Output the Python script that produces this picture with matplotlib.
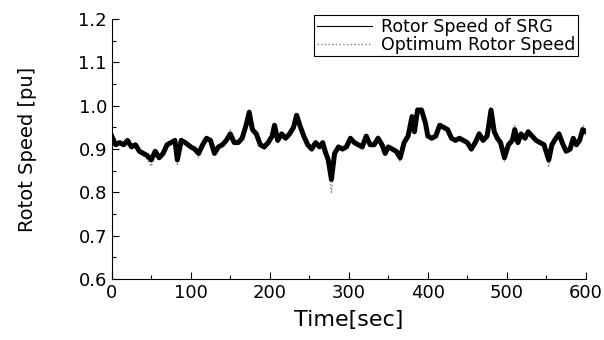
import matplotlib
matplotlib.use("Agg")
import matplotlib.pyplot as plt
from matplotlib.ticker import MultipleLocator, FormatStrFormatter

# Values (time in s, speed in pu)
time_s = [0, 5, 10, 15, 20, 25, 30, 35, 40, 45, 50, 55, 60, 65, 70, 75, 80, 83, 88, 93,
          100, 105, 110, 115, 120, 125, 130, 135, 140, 145, 150, 155, 160, 165, 170, 174, 178,
          183, 188, 193, 198, 203, 206, 210, 215, 220, 225, 230, 234, 238, 243, 248, 253,
          258, 263, 267, 270, 274, 278, 282, 287, 292, 297, 302, 307, 312, 317, 322, 327,
          332, 337, 342, 346, 350, 355, 360, 365, 370, 375, 380, 383, 387, 392, 397, 400,
          405, 410, 415, 420, 425, 430, 435, 440, 445, 450, 455, 460, 465, 470, 475, 480,
          484, 488, 492, 497, 502, 507, 510, 514, 518, 523, 527, 532, 537, 542, 547, 553,
          557, 562, 566, 570, 575, 580, 584, 588, 592, 596, 600]

srg_speed = [0.93, 0.91, 0.915, 0.91, 0.92, 0.905, 0.91, 0.895, 0.89, 0.885, 0.875, 0.895,
             0.88, 0.89, 0.91, 0.915, 0.92, 0.875, 0.92, 0.915,
             0.905, 0.90, 0.89, 0.91, 0.925, 0.92, 0.89, 0.905, 0.91, 0.92, 0.935, 0.915,
             0.915, 0.925, 0.955, 0.985, 0.945,
             0.935, 0.91, 0.905, 0.915, 0.93, 0.955, 0.92, 0.935, 0.925, 0.935, 0.95, 0.978,
             0.955, 0.93, 0.91, 0.90,
             0.915, 0.905, 0.915, 0.895, 0.875, 0.83, 0.89, 0.905, 0.90, 0.905, 0.925, 0.915,
             0.91, 0.905, 0.93, 0.91,
             0.91, 0.925, 0.91, 0.89, 0.905, 0.90, 0.895, 0.88, 0.915, 0.93, 0.975, 0.94,
             0.99, 0.99, 0.96, 0.93,
             0.925, 0.93, 0.955, 0.95, 0.945, 0.925, 0.92, 0.925, 0.92, 0.915, 0.90, 0.915,
             0.935, 0.92, 0.93, 0.99,
             0.94, 0.925, 0.915, 0.88, 0.91, 0.92, 0.945, 0.915, 0.935, 0.925, 0.94, 0.93,
             0.92, 0.915, 0.91, 0.875,
             0.91, 0.925, 0.935, 0.915, 0.895, 0.90, 0.925, 0.91, 0.92, 0.945, 0.94]

opt_speed = [0.935, 0.905, 0.915, 0.905, 0.925, 0.90, 0.91, 0.89, 0.885, 0.875, 0.86, 0.895,
             0.875, 0.89, 0.91, 0.915, 0.925, 0.865, 0.925, 0.915,
             0.905, 0.895, 0.88, 0.91, 0.93, 0.92, 0.885, 0.905, 0.91, 0.925, 0.945, 0.915,
             0.915, 0.925, 0.96, 0.99, 0.945,
             0.935, 0.905, 0.90, 0.915, 0.935, 0.96, 0.915, 0.94, 0.925, 0.94, 0.955, 0.982,
             0.955, 0.93, 0.905, 0.895,
             0.915, 0.90, 0.915, 0.89, 0.865, 0.80, 0.89, 0.905, 0.895, 0.905, 0.93, 0.915,
             0.91, 0.90, 0.935, 0.91,
             0.905, 0.93, 0.91, 0.885, 0.905, 0.895, 0.89, 0.87, 0.915, 0.935, 0.98, 0.94,
             0.995, 0.995, 0.96, 0.925,
             0.925, 0.935, 0.96, 0.955, 0.95, 0.925, 0.915, 0.925, 0.92, 0.915, 0.895, 0.915,
             0.94, 0.92, 0.93, 0.995,
             0.94, 0.925, 0.915, 0.87, 0.91, 0.92, 0.955, 0.915, 0.94, 0.925, 0.945, 0.93,
             0.92, 0.915, 0.905, 0.86,
             0.91, 0.93, 0.94, 0.915, 0.89, 0.90, 0.93, 0.91, 0.925, 0.955, 0.945]

legend_labels = ["Rotor Speed of SRG", "Optimum Rotor Speed"]

#-------------------------------------------------------------------------------

def main():
  plt.rcParams['font.family'] = ['DejaVu Sans']
  fig = plt.figure(figsize=(6.04, 3.40), dpi=100)
  ax = fig.add_axes([0.185, 0.179, 0.785, 0.765])

  ax.plot(time_s, opt_speed, color="#808080", ls=":", lw=1.0, label=legend_labels[1])
  ax.plot(time_s, srg_speed, color="black", ls="-", lw=3.6, solid_joinstyle="round",
          label="_srg")
  # thin handle for the legend entry of the SRG speed
  ax.plot([], [], color="black", lw=0.8, label=legend_labels[0])

  ax.set_xlim(0, 600)
  ax.set_ylim(0.6, 1.2)
  ax.xaxis.set_major_locator(MultipleLocator(100))
  ax.xaxis.set_minor_locator(MultipleLocator(50))
  ax.yaxis.set_major_locator(MultipleLocator(0.1))
  ax.yaxis.set_minor_locator(MultipleLocator(0.05))
  ax.yaxis.set_major_formatter(FormatStrFormatter("%.1f"))
  ax.tick_params(which="both", direction="in", labelsize=13, width=0.8)
  ax.tick_params(which="major", length=5)
  ax.tick_params(which="minor", length=3)
  ax.spines["top"].set_visible(False)
  ax.spines["right"].set_visible(False)

  ax.set_xlabel("Time[sec]", size=16, labelpad=6)
  ax.set_ylabel("Rotot Speed [pu]", size=14, labelpad=30)

  handles, labels = ax.get_legend_handles_labels()
  order = [labels.index(l) for l in legend_labels]
  leg = ax.legend([handles[i] for i in order], legend_labels, loc="upper right",
                  bbox_to_anchor=(0.983, 1.015), fontsize=12.5, fancybox=False,
                  edgecolor="black", framealpha=1, handlelength=3.2,
                  borderpad=0.15, labelspacing=0.0, handletextpad=0.5,
                  borderaxespad=0.0)
  leg.get_frame().set_linewidth(0.8)

  fig.savefig("out.png", dpi=100)
  plt.close(fig)

if __name__ == "__main__":
  main()
